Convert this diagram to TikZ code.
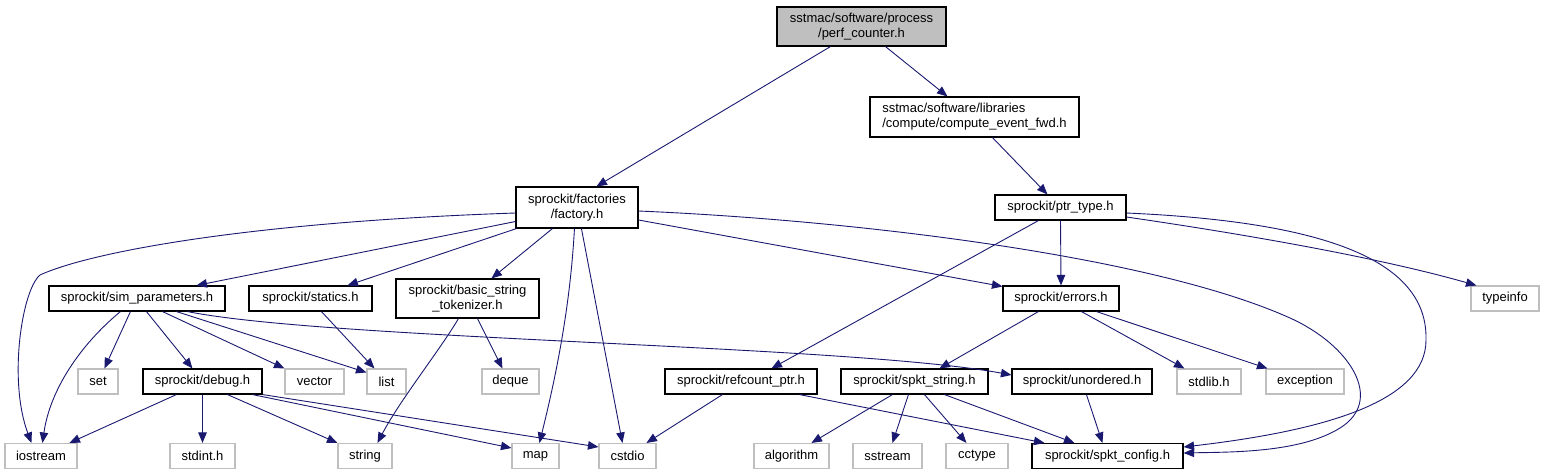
\documentclass[tikz,border=0pt]{standalone}
\usepackage{fontspec}
\setmainfont{Liberation Sans}
\usetikzlibrary{arrows.meta}
\definecolor{edgeblue}{HTML}{191970}
\definecolor{boxgray}{HTML}{BFBFBF}
\begin{document}
\begin{tikzpicture}[x=1pt,y=-1pt,
  font=\fontsize{13}{15}\selectfont,
  nd/.style={draw=black, line width=1.1pt, inner sep=0pt, align=center, fill=white},
  gnd/.style={draw=boxgray, line width=1.1pt, inner sep=0pt, align=center, fill=white},
  edge/.style={draw=edgeblue, line width=0.9pt, -{Triangle[length=10.5pt,width=8.5pt]}},
]
\useasboundingbox (0,0) rectangle (1544,475);
% row 0
\node[nd, fill=boxgray, minimum width=169pt, minimum height=39pt] (root) at (861.5,26.5) {sstmac/software/process\\/perf\_counter.h};
% row 1
\node[nd, align=left, minimum width=209pt, minimum height=40pt] (cef) at (974.5,117) {sstmac/software/libraries\\/compute/compute\_event\_fwd.h};
% row 2
\node[nd, minimum width=122pt, minimum height=41pt] (factory) at (577,207.5) {sprockit/factories\\/factory.h};
\node[nd, minimum width=131pt, minimum height=25pt] (ptr) at (1060.5,207.5) {sprockit/ptr\_type.h};
% row 3
\node[nd, minimum width=176pt, minimum height=25pt] (simp) at (137,298.5) {sprockit/sim\_parameters.h};
\node[nd, minimum width=123pt, minimum height=25pt] (statics) at (310.5,298.5) {sprockit/statics.h};
\node[nd, minimum width=143pt, minimum height=39pt] (bst) at (467.5,298.5) {sprockit/basic\_string\\\_tokenizer.h};
\node[nd, minimum width=116pt, minimum height=25pt] (errors) at (1061,298.5) {sprockit/errors.h};
\node[gnd, minimum width=68pt, minimum height=25pt] (typeinfo) at (1505,298.5) {typeinfo};
% row 4
\node[gnd, minimum width=40pt, minimum height=25pt] (set) at (98,381.5) {set};
\node[nd, minimum width=119pt, minimum height=25pt] (debug) at (202.5,381.5) {sprockit/debug.h};
\node[gnd, minimum width=59pt, minimum height=25pt] (vector) at (314.5,381.5) {vector};
\node[gnd, minimum width=39pt, minimum height=25pt] (list) at (386.5,381.5) {list};
\node[gnd, minimum width=57pt, minimum height=25pt] (deque) at (510.5,381.5) {deque};
\node[nd, minimum width=152pt, minimum height=25pt] (refcount) at (741,381.5) {sprockit/refcount\_ptr.h};
\node[nd, minimum width=147pt, minimum height=25pt] (spktstring) at (914.5,381.5) {sprockit/spkt\_string.h};
\node[nd, minimum width=140pt, minimum height=25pt] (unordered) at (1082,381.5) {sprockit/unordered.h};
\node[gnd, minimum width=64pt, minimum height=25pt] (stdlib) at (1209,381.5) {stdlib.h};
\node[gnd, minimum width=78pt, minimum height=25pt] (exception) at (1305,381.5) {exception};
% row 5
\node[gnd, minimum width=72pt, minimum height=25pt] (iostream) at (41,456) {iostream};
\node[gnd, minimum width=65pt, minimum height=25pt] (stdint) at (202.5,456) {stdint.h};
\node[gnd, minimum width=54pt, minimum height=25pt] (string) at (365,456) {string};
\node[gnd, minimum width=47pt, minimum height=25pt] (map) at (535.5,456) {map};
\node[gnd, minimum width=57pt, minimum height=25pt] (cstdio) at (627.5,456) {cstdio};
\node[gnd, minimum width=75pt, minimum height=25pt] (algorithm) at (791.5,456) {algorithm};
\node[gnd, minimum width=69pt, minimum height=25pt] (sstream) at (887.5,456) {sstream};
\node[gnd, minimum width=62pt, minimum height=25pt] (cctype) at (977,456) {cctype};
\node[nd, minimum width=151pt, minimum height=25pt] (spktconfig) at (1107.5,456) {sprockit/spkt\_config.h};

% edges
\draw[edge] ([xshift=54pt]root.south west) -- ([xshift=81pt]factory.north west);
\draw[edge] ([xshift=109pt]root.south west) -- ([xshift=78pt]cef.north west);
\draw[edge] ([xshift=123pt]cef.south west) -- ([xshift=53pt]ptr.north west);

\draw[edge] ([yshift=-5.5pt]factory.west) .. controls (250,222) and (90,252) .. (40,275)
   .. controls (22,290) and (8,380) .. ([xshift=27pt]iostream.north west);
\draw[edge] ([yshift=-14pt]factory.west) -- ([xshift=148pt]simp.north west);
\draw[edge] ([xshift=1pt]factory.south west) -- ([xshift=99pt]statics.north west);
\draw[edge] ([xshift=37pt]factory.south west) -- ([xshift=96pt]bst.north west);
\draw[edge] ([xshift=59pt]factory.south west) .. controls (570,310) and (555,380) .. ([xshift=28pt]map.north west);
\draw[edge] ([xshift=66pt]factory.south west) -- ([xshift=24pt]cstdio.north west);
\draw[edge] ([yshift=-12.5pt]factory.east) -- ([yshift=-1pt]errors.north west);
\draw[edge] ([yshift=-3.5pt]factory.east) .. controls (850,220) and (1150,255) .. (1290,318)
   .. controls (1350,345) and (1385,400) .. (1340,428)
   .. controls (1300,453) and (1230,452) .. ([yshift=3pt]spktconfig.east);

\draw[edge] ([yshift=-9.5pt]ptr.east) .. controls (1250,235) and (1380,258) .. ([xshift=6pt]typeinfo.north west);
\draw[edge] ([yshift=-5.5pt]ptr.east) .. controls (1330,222) and (1428,262) .. (1426,340)
   .. controls (1426,400) and (1330,430) .. ([yshift=9pt]spktconfig.east);
\draw[edge] (ptr.south) -- (errors.north);
\draw[edge] ([xshift=44pt]ptr.south west) -- ([xshift=107pt]refcount.north west);

\draw[edge] ([xshift=36pt]errors.south west) -- ([xshift=99pt]spktstring.north west);
\draw[edge] ([xshift=79pt]errors.south west) -- ([xshift=8pt]stdlib.north west);
\draw[edge] ([xshift=94pt]errors.south west) -- ([xshift=2pt]exception.north west);

\draw[edge] ([xshift=72pt]simp.south west) .. controls (80,345) and (50,390) .. ([xshift=38pt]iostream.north west);
\draw[edge] ([xshift=82pt]simp.south west) -- ([xshift=27pt]set.north west);
\draw[edge] ([xshift=98pt]simp.south west) -- ([xshift=50pt]debug.north west);
\draw[edge] ([xshift=114pt]simp.south west) -- (vector.north west);
\draw[edge] ([xshift=128pt]simp.south west) -- ([yshift=-4pt]list.north west);
\draw[edge] ([xshift=139pt]simp.south west) .. controls (330,340) and (850,345) .. ([yshift=6.5pt]unordered.west);

\draw[edge] ([xshift=73pt]statics.south west) -- ([xshift=8pt]list.north west);

\draw[edge] ([xshift=63pt]bst.south west) .. controls (440,350) and (400,400) .. ([xshift=40pt]string.north west);
\draw[edge] ([xshift=82pt]bst.south west) -- ([xshift=21pt]deque.north west);

\draw[edge] ([xshift=34pt]debug.south west) -- ([xshift=65pt]iostream.north west);
\draw[edge] (debug.south) -- (stdint.north);
\draw[edge] ([xshift=85pt]debug.south west) -- (string.north west);
\draw[edge] ([xshift=110pt]debug.south west) -- ([yshift=8pt]map.west);
\draw[edge] (debug.south east) -- ([yshift=9pt]cstdio.west);

\draw[edge] ([xshift=58pt]refcount.south west) -- ([xshift=48pt]cstdio.north west);
\draw[edge] ([xshift=135pt]refcount.south west) -- ([xshift=13pt]spktconfig.north west);

\draw[edge] ([xshift=52pt]spktstring.south west) -- ([xshift=58pt]algorithm.north west);
\draw[edge] ([xshift=68pt]spktstring.south west) -- ([xshift=40pt]sstream.north west);
\draw[edge] ([xshift=84pt]spktstring.south west) -- ([xshift=21pt]cctype.north west);
\draw[edge] ([xshift=104pt]spktstring.south west) -- ([xshift=43pt]spktconfig.north west);

\draw[edge] ([xshift=75pt]unordered.south west) -- ([xshift=71pt]spktconfig.north west);
\end{tikzpicture}
\end{document}
